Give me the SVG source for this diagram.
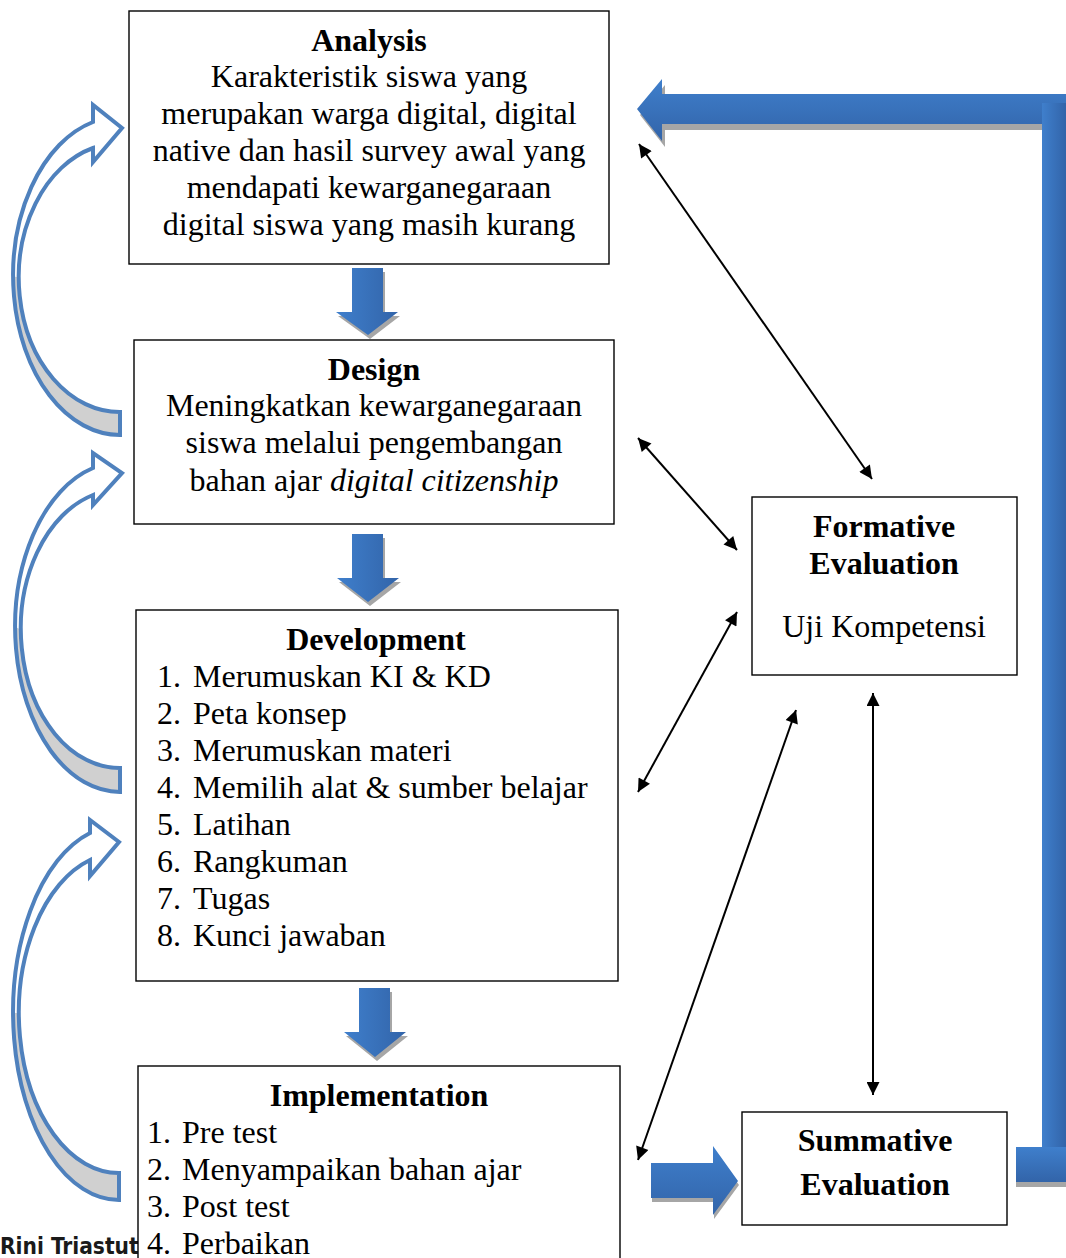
<svg xmlns="http://www.w3.org/2000/svg" width="1066" height="1258" viewBox="0 0 1066 1258">
<defs>
<style>
.box{fill:#fff;stroke:#000;stroke-width:1.4}
.t{font-family:"Liberation Serif","Times New Roman",serif;font-size:32px;fill:#000}
.b{font-weight:bold}
.c{text-anchor:middle}
.con{stroke:#000;stroke-width:2;fill:none;marker-start:url(#ah);marker-end:url(#ah)}
.shadow{fill:#a6a6a6}
.curve{stroke:#4f81bd;stroke-width:4;fill:none;stroke-linejoin:miter}
</style>
<linearGradient id="gv" x1="0" y1="0" x2="0" y2="1"><stop offset="0" stop-color="#3f7fcc"/><stop offset="1" stop-color="#3264a9"/></linearGradient>
<linearGradient id="gh" x1="0" y1="0" x2="1" y2="0"><stop offset="0" stop-color="#3f7fcc"/><stop offset="1" stop-color="#3264a9"/></linearGradient>
<marker id="ah" viewBox="0 0 10 10" refX="10" refY="5" markerUnits="userSpaceOnUse" markerWidth="15" markerHeight="13" orient="auto-start-reverse"><path d="M0,0 L10,5 L0,10 z" fill="#000"/></marker>
</defs>

<text x="0" y="1254" style="font-family:'DejaVu Sans Condensed','DejaVu Sans',sans-serif;font-weight:bold;font-size:22.5px;fill:#1a1a1a">Rini Triastuti</text>

<g id="analysis">
<rect class="box" x="129" y="11" width="480" height="253"/>
<text class="t b c" x="369" y="51">Analysis</text>
<text class="t c" x="369" y="87">Karakteristik siswa yang</text>
<text class="t c" x="369" y="124">merupakan warga digital, digital</text>
<text class="t c" x="369" y="161">native dan hasil survey awal yang</text>
<text class="t c" x="369" y="198">mendapati kewarganegaraan</text>
<text class="t c" x="369" y="235">digital siswa yang masih kurang</text>
</g>

<g id="design">
<rect class="box" x="134" y="340" width="480" height="184"/>
<text class="t b c" x="374" y="380">Design</text>
<text class="t c" x="374" y="416">Meningkatkan kewarganegaraan</text>
<text class="t c" x="374" y="453">siswa melalui pengembangan</text>
<text class="t c" x="374" y="491">bahan ajar <tspan font-style="italic">digital citizenship</tspan></text>
</g>

<g id="development">
<rect class="box" x="136" y="610" width="482" height="371"/>
<text class="t b c" x="376" y="650">Development</text>
<g class="t">
<text x="157" y="687">1.</text><text x="193" y="687">Merumuskan KI &amp; KD</text>
<text x="157" y="724">2.</text><text x="193" y="724">Peta konsep</text>
<text x="157" y="761">3.</text><text x="193" y="761">Merumuskan materi</text>
<text x="157" y="798">4.</text><text x="193" y="798">Memilih alat &amp; sumber belajar</text>
<text x="157" y="835">5.</text><text x="193" y="835">Latihan</text>
<text x="157" y="872">6.</text><text x="193" y="872">Rangkuman</text>
<text x="157" y="909">7.</text><text x="193" y="909">Tugas</text>
<text x="157" y="946">8.</text><text x="193" y="946">Kunci jawaban</text>
</g>
</g>

<g id="implementation">
<rect class="box" x="138" y="1066" width="482" height="210"/>
<text class="t b c" x="379" y="1106">Implementation</text>
<g class="t">
<text x="147" y="1143">1.</text><text x="182" y="1143">Pre test</text>
<text x="147" y="1180">2.</text><text x="182" y="1180">Menyampaikan bahan ajar</text>
<text x="147" y="1217">3.</text><text x="182" y="1217">Post test</text>
<text x="147" y="1254">4.</text><text x="182" y="1254">Perbaikan</text>
</g>
</g>

<g id="formative">
<rect class="box" x="752" y="497" width="265" height="178"/>
<text class="t b c" x="884" y="537">Formative</text>
<text class="t b c" x="884" y="574">Evaluation</text>
<text class="t c" x="884" y="637">Uji Kompetensi</text>
</g>

<g id="summative">
<rect class="box" x="742" y="1112" width="265" height="113"/>
<text class="t b c" x="875" y="1151">Summative</text>
<text class="t b c" x="875" y="1195">Evaluation</text>
</g>

<g id="connectors">
<path class="shadow" transform="translate(2,4)" d="M352 268 H383 V312 H398 L368 335 L336 312 H352 Z"/>
<path fill="url(#gh)" d="M352 268 H383 V312 H398 L368 335 L336 312 H352 Z"/>
<path class="shadow" transform="translate(2,4)" d="M352 534 H383 V578 H399 L368 602 L337 578 H352 Z"/>
<path fill="url(#gh)" d="M352 534 H383 V578 H399 L368 602 L337 578 H352 Z"/>
<path class="shadow" transform="translate(2,4)" d="M359 988 H390 V1032 H406 L375 1057 L344 1032 H359 Z"/>
<path fill="url(#gh)" d="M359 988 H390 V1032 H406 L375 1057 L344 1032 H359 Z"/>
<path class="shadow" transform="translate(1,4)" d="M651 1163 H713 V1146 L738 1181 L713 1215 V1198 H651 Z"/>
<path fill="url(#gv)" d="M651 1163 H713 V1146 L738 1181 L713 1215 V1198 H651 Z"/>
<path class="shadow" transform="translate(3,6)" d="M637 109 L662 79 V94 H1066 V124 H662 V141 Z"/>
<path fill="url(#gv)" d="M637 109 L662 79 V94 H1066 V124 H662 V141 Z"/>
<rect x="1042" y="103" width="24" height="1044" fill="url(#gh)"/>
<rect class="shadow" x="1016" y="1152" width="50" height="35"/>
<rect x="1016" y="1147" width="50" height="35" fill="url(#gv)"/>

<g>
<path fill="#d0d0d0" d="M120 435 A107 159.1 0 0 1 13 275.9 L19 277.6 A101 134.4 0 0 0 120 412 Z"/>
<path fill="#fff" d="M13 275.9 A107 159.1 0 0 1 93 122 L93 105 L122 128 L93 162 L93 148 A101 134.4 0 0 0 19 277.6 Z"/>
<path class="curve" d="M120 435 A107 159.1 0 0 1 93 122 L93 105 L122 128 L93 162 L93 148 A101 134.4 0 0 0 120 412 Z"/>
</g>
<g>
<path fill="#d0d0d0" d="M120 792 A105 164.8 0 0 1 15 627.2 L21 628.9 A99 139.1 0 0 0 120 768 Z"/>
<path fill="#fff" d="M15 627.2 A105 164.8 0 0 1 93 468 L93 453 L122 473 L93 505 L93 495 A99 139.1 0 0 0 21 628.9 Z"/>
<path class="curve" d="M120 792 A105 164.8 0 0 1 93 468 L93 453 L122 473 L93 505 L93 495 A99 139.1 0 0 0 120 768 Z"/>
</g>
<g>
<path fill="#d0d0d0" d="M119 1200 A106 187.1 0 0 1 13 1012.9 L19 1013.1 A100 159.9 0 0 0 119 1173 Z"/>
<path fill="#fff" d="M13 1012.9 A106 187.1 0 0 1 90 833 L90 820 L119 842 L90 876 L90 860 A100 159.9 0 0 0 19 1013.1 Z"/>
<path class="curve" d="M119 1200 A106 187.1 0 0 1 90 833 L90 820 L119 842 L90 876 L90 860 A100 159.9 0 0 0 119 1173 Z"/>
</g>

<line class="con" x1="639" y1="144" x2="872" y2="479"/>
<line class="con" x1="638" y1="438" x2="737" y2="550"/>
<line class="con" x1="737" y1="612" x2="638" y2="792"/>
<line class="con" x1="796" y1="710" x2="638" y2="1160"/>
<line class="con" x1="873" y1="693" x2="873" y2="1095"/>
</g>
</svg>
